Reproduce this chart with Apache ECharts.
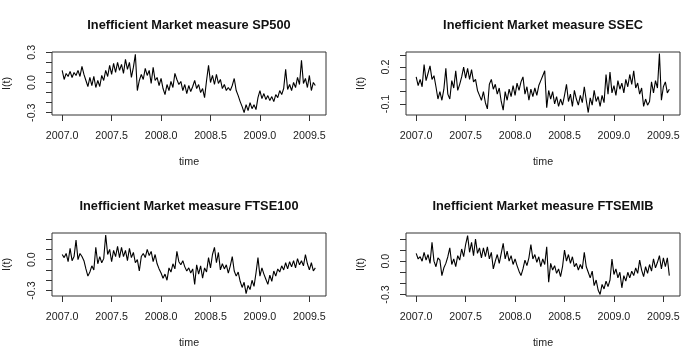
<!DOCTYPE html>
<html>
<head>
<meta charset="utf-8">
<script src="https://cdn.jsdelivr.net/npm/echarts@6/dist/echarts.min.js"></script>
<style>
    html, body {margin: 0; background: #fff;}
    #chart {width: 700px; height: 355px;}
</style>
</head>
<body>
<div id="chart"></div>
<script>
// ts(start = 2007, frequency = 50)
const start = 2007;
const freq = 50;

const sp500 = [0.12, 0.03, 0.09, 0.06, 0.11, 0.05, 0.10, 0.07, 0.12, 0.06,
    0.16, 0.08, 0.02, -0.04, 0.05, -0.03, 0.06, -0.05, 0.02, -0.04,
    0.07, 0.02, 0.12, 0.06, 0.17, 0.08, 0.19, 0.10, 0.20, 0.12,
    0.18, 0.09, 0.23, 0.13, 0.20, 0.05, 0.15, 0.28, -0.08, 0.02,
    0.08, 0.03, 0.14, 0.07, 0.12, -0.01, 0.15, 0.02, 0.05, -0.03,
    0.04, -0.06, -0.12, -0.02, -0.08, 0.01, -0.05, 0.09, 0.03, -0.02,
    0.01, -0.08, -0.02, -0.11, -0.03, -0.09, -0.04, 0.02, -0.06, -0.02,
    -0.10, -0.06, -0.15, 0.02, 0.17, 0.00, 0.07, -0.02, 0.08, -0.01,
    0.03, -0.06, -0.02, -0.08, -0.05, -0.08, -0.03, 0.04, -0.08, -0.13,
    -0.19, -0.24, -0.30, -0.22, -0.28, -0.20, -0.26, -0.22, -0.27, -0.15,
    -0.08, -0.16, -0.11, -0.17, -0.13, -0.18, -0.14, -0.19, -0.12, -0.15,
    -0.08, -0.12, -0.06, 0.13, -0.07, -0.02, -0.08, 0.00, -0.05, 0.05,
    -0.02, 0.22, -0.01, 0.04, -0.05, 0.07, -0.08, 0.00, -0.03];

const ssec = [0.12, 0.05, 0.10, 0.04, 0.22, 0.09, 0.15, 0.21, 0.10, 0.13,
    0.04, -0.06, 0.00, -0.07, 0.02, 0.19, -0.02, -0.06, 0.09, 0.03,
    0.17, 0.01, 0.06, 0.12, 0.20, 0.11, 0.19, 0.10, 0.18, 0.08,
    0.10, 0.01, -0.03, -0.07, 0.00, -0.09, -0.14, 0.06, 0.10, 0.02,
    0.06, -0.02, 0.03, -0.08, -0.15, 0.00, -0.07, 0.02, -0.04, 0.05,
    -0.03, 0.07, 0.01, 0.08, 0.12, -0.02, 0.04, -0.07, 0.02, -0.04,
    0.03, -0.03, 0.05, 0.09, 0.13, 0.17, -0.13, 0.01, -0.06, 0.00,
    -0.10, -0.04, -0.12, -0.06, -0.11, -0.03, 0.06, -0.08, -0.02, -0.12,
    0.01, -0.06, -0.11, -0.03, -0.09, 0.04, -0.07, -0.17, -0.05, -0.11,
    0.01, -0.08, -0.04, -0.12, -0.03, -0.09, 0.14, -0.02, 0.16, -0.01,
    0.05, -0.03, 0.09, 0.02, 0.07, -0.01, 0.10, 0.04, 0.14, 0.06,
    0.17, 0.03, 0.07, -0.02, 0.03, -0.12, -0.06, -0.11, -0.08, 0.08,
    -0.01, 0.09, 0.03, 0.31, -0.07, 0.04, 0.08, -0.01, 0.02];

const ftse100 = [0.05, 0.02, 0.06, -0.02, 0.11, -0.01, 0.03, 0.19, 0.00, 0.06,
    0.03, -0.01, -0.09, -0.16, -0.12, -0.06, -0.10, 0.12, -0.04, 0.03,
    -0.03, 0.01, 0.24, 0.05, 0.10, -0.02, 0.09, 0.03, 0.13, 0.02,
    0.12, 0.03, 0.09, -0.01, 0.11, 0.02, 0.07, -0.03, 0.00, -0.11,
    0.03, 0.06, 0.02, 0.10, 0.04, 0.08, -0.02, 0.05, -0.04, -0.09,
    -0.13, -0.18, -0.14, -0.20, -0.08, -0.12, -0.04, -0.09, 0.08, -0.02,
    -0.05, -0.01, -0.07, -0.11, -0.08, -0.13, -0.09, -0.24, -0.05, -0.14,
    -0.06, -0.18, -0.08, -0.12, 0.02, -0.08, 0.05, 0.12, -0.03, 0.07,
    -0.10, -0.04, -0.09, -0.05, -0.13, -0.06, 0.03, -0.11, -0.16, -0.12,
    -0.21, -0.27, -0.22, -0.33, -0.25, -0.29, -0.20, -0.26, -0.13, 0.02,
    -0.16, -0.08, -0.14, -0.19, -0.24, -0.15, -0.21, -0.11, -0.16, -0.09,
    -0.12, -0.06, -0.10, -0.03, -0.09, -0.02, -0.07, -0.01, -0.08, 0.01,
    -0.05, -0.01, -0.06, 0.05, -0.04, -0.10, -0.03, -0.11, -0.08];

const ftsemib = [0.07, 0.02, 0.04, 0.00, 0.08, 0.01, 0.06, -0.02, 0.17, 0.00,
    -0.05, 0.03, 0.01, -0.13, -0.06, -0.02, 0.04, 0.12, -0.03, 0.02,
    -0.05, 0.05, 0.01, 0.11, 0.04, 0.15, 0.23, 0.08, 0.17, 0.05,
    0.20, 0.07, 0.12, 0.03, 0.12, 0.04, 0.13, 0.02, 0.08, -0.07,
    0.00, 0.06, -0.02, 0.07, 0.16, 0.02, 0.09, 0.00, 0.05, -0.03,
    0.02, -0.04, -0.09, -0.13, -0.07, 0.01, -0.04, 0.03, 0.15, 0.02,
    0.06, -0.01, 0.04, -0.05, 0.02, -0.03, 0.13, -0.19, -0.02, -0.08,
    -0.04, -0.11, -0.07, -0.14, -0.05, 0.10, 0.00, 0.06, -0.02, 0.04,
    -0.05, -0.02, -0.08, -0.03, -0.07, 0.08, -0.05, -0.10, -0.15, -0.09,
    -0.22, -0.17, -0.26, -0.30, -0.21, -0.25, -0.18, -0.23, -0.17, 0.02,
    -0.12, -0.07, -0.15, -0.10, -0.24, -0.13, -0.18, -0.10, -0.15, -0.09,
    -0.13, -0.06, -0.11, 0.01, -0.08, -0.14, -0.05, -0.11, -0.03, -0.09,
    0.02, -0.06, -0.01, 0.05, -0.07, 0.03, -0.05, 0.03, -0.13];

const xTicks = [2007, 2007.5, 2008, 2008.5, 2009, 2009.5];
const sp500Ticks = [-0.3, -0.2, -0.1, 0, 0.1, 0.2, 0.3];
const sp500Labels = [-0.3, 0, 0.3];
const ssecTicks = [-0.1, 0, 0.1, 0.2, 0.3];
const ssecLabels = [-0.1, 0.2];
const ftse100Ticks = [-0.3, -0.2, -0.1, 0, 0.1, 0.2];
const ftse100Labels = [-0.3, 0];
const ftsemibTicks = [-0.3, -0.2, -0.1, 0, 0.1, 0.2];
const ftsemibLabels = [-0.3, 0];

// plot boxes (R extends the range by 4%)
const xMin = 2006.897, xMax = 2009.668;
const panels = [
    {name: 'SP500', values: sp500, ticks: sp500Ticks, labels: sp500Labels, yMin: -0.323, yMax: 0.303, left: 52, top: 52},
    {name: 'SSEC', values: ssec, ticks: ssecTicks, labels: ssecLabels, yMin: -0.19, yMax: 0.323, left: 406, top: 52},
    {name: 'FTSE100', values: ftse100, ticks: ftse100Ticks, labels: ftse100Labels, yMin: -0.353, yMax: 0.259, left: 52, top: 233},
    {name: 'FTSEMIB', values: ftsemib, ticks: ftsemibTicks, labels: ftsemibLabels, yMin: -0.314, yMax: 0.254, left: 406, top: 233}
];
const boxWidth = 274, boxHeight = 63;
const font = "'Liberation Sans', Arial, sans-serif";
const ink = '#222';

const chart = echarts.init(document.getElementById('chart'));

chart.setOption({
    animation: false,
    backgroundColor: '#fff',
    textStyle: {fontFamily: font},
    title: panels.map(p => ({
        text: 'Inefficient Market measure ' + p.name,
        left: p.left + boxWidth / 2,
        top: p.top - 33,
        padding: 0,
        textAlign: 'center',
        textStyle: {fontFamily: font, fontSize: 12.8, fontWeight: 'bold', color: '#111'}
    })),
    grid: panels.map(p => ({
        left: p.left,
        top: p.top,
        width: boxWidth,
        height: boxHeight,
        show: true,
        borderColor: '#333',
        borderWidth: 1,
        outerBoundsMode: 'none'
    })),
    xAxis: panels.map((p, i) => ({
        type: 'value',
        gridIndex: i,
        min: xMin,
        max: xMax,
        name: 'time',
        nameLocation: 'middle',
        nameGap: 42,
        nameTextStyle: {fontFamily: font, fontSize: 10.7, color: ink},
        axisLine: {show: false, onZero: false},
        axisTick: {show: true, inside: false, length: 6, customValues: xTicks, lineStyle: {color: '#333'}},
        axisLabel: {customValues: xTicks, margin: 15.5, fontFamily: font, fontSize: 10.7, color: ink,
            formatter: v => v.toFixed(1)},
        splitLine: {show: false}
    })),
    yAxis: panels.map((p, i) => ({
        type: 'value',
        gridIndex: i,
        min: p.yMin,
        max: p.yMax,
        name: 'I(t)',
        nameLocation: 'middle',
        nameRotate: 90,
        nameGap: 39,
        nameTextStyle: {fontFamily: font, fontSize: 10.7, color: ink},
        axisLine: {show: false, onZero: false},
        axisTick: {show: true, inside: false, length: 6, customValues: p.ticks, lineStyle: {color: '#333'}},
        axisLabel: {customValues: p.labels, rotate: 90, margin: 14, fontFamily: font, fontSize: 10.7, color: ink,
            formatter: v => v.toFixed(1)},
        splitLine: {show: false}
    })),
    series: panels.map((p, i) => ({
        type: 'line',
        xAxisIndex: i,
        yAxisIndex: i,
        showSymbol: false,
        symbol: 'none',
        lineStyle: {color: '#000', width: 1.1},
        data: p.values.map((v, k) => [start + k / freq, v])
    }))
});
</script>
</body>
</html>
